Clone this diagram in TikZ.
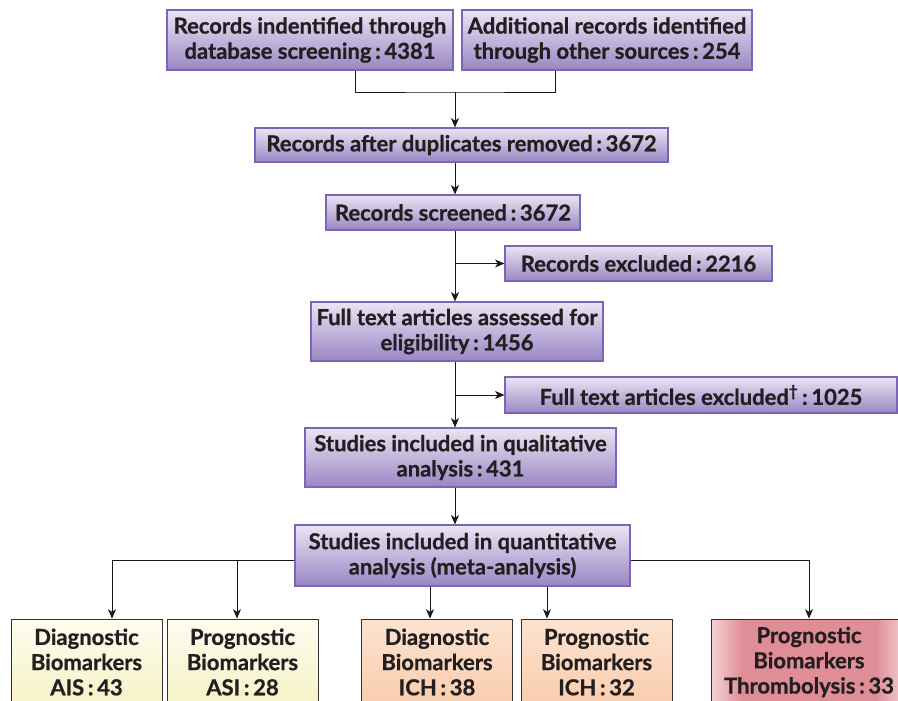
\documentclass[tikz,border=0pt]{standalone}
\usepackage{fontspec}
\setmainfont{Lato}[BoldFeatures={FakeBold=0.8}]
\usetikzlibrary{arrows.meta}
\definecolor{txt}{HTML}{231F20}
\definecolor{ptop}{HTML}{EAE5F3}
\definecolor{pbot}{HTML}{9A86C4}
\definecolor{pedge}{HTML}{7D65B5}
\definecolor{ylw}{HTML}{F6F2C8}
\definecolor{ylwtop}{HTML}{FDFCEE}
\definecolor{pch}{HTML}{F9CDAE}
\definecolor{pchtop}{HTML}{FCE3D0}
\definecolor{pinkc}{HTML}{DF8D96}
\definecolor{pinke}{HTML}{F5D3D7}
\pgfdeclarehorizontalshading{pinksh}{100bp}{color(0bp)=(pinke); color(25bp)=(pinke); color(33bp)=(pinkc); color(67bp)=(pinkc); color(75bp)=(pinke); color(100bp)=(pinke)}
\begin{document}
\begin{tikzpicture}[x=0.75pt,y=-0.75pt,
  every node/.style={font=\bfseries\fontsize{16.5}{18.9}\selectfont, text=txt, align=center, inner sep=0pt},
  pbox/.style={draw=pedge, line width=0.9pt, top color=ptop, bottom color=pbot},
  qbox/.style={draw=black!80, line width=0.7pt, minimum width=151*0.75pt, minimum height=86*0.75pt},
  ybox/.style={qbox, top color=ylwtop, bottom color=ylw},
  obox/.style={qbox, top color=pchtop, bottom color=pch},
  rbox/.style={qbox, shading=pinksh},
  conn/.style={draw=black!90, line width=0.7pt},
  arr/.style={conn, -{Stealth[length=7pt,width=6pt,inset=2pt]}}
]
\useasboundingbox (0,0) rectangle (898,700);

\node[pbox, minimum width=286*0.75pt, minimum height=60*0.75pt] (b1) at (310,40) {Records indentified through\\database screening\,:\,4381};
\node[pbox, minimum width=290*0.75pt, minimum height=60*0.75pt] (b2) at (607,40) {Additional records identified\\through other sources\,:\,254};
\node[pbox, minimum width=413*0.75pt, minimum height=34*0.75pt] (b3) at (461.5,145) {Records after duplicates removed\,:\,3672};
\node[pbox, minimum width=254*0.75pt, minimum height=35*0.75pt] (b4) at (453,212.5) {Records screened\,:\,3672};
\node[pbox, minimum width=267*0.75pt, minimum height=35*0.75pt] (ex1) at (638.5,263.5) {Records excluded\,:\,2216};
\node[pbox, minimum width=292*0.75pt, minimum height=59*0.75pt] (b5) at (457,331.5) {Full text articles assessed for\\eligibility\,:\,1456};
\node[pbox, minimum width=392*0.75pt, minimum height=36*0.75pt] (ex2) at (701,395) {Full text articles excluded\textsuperscript{\textdagger}\,:\,1025};
\node[pbox, minimum width=311*0.75pt, minimum height=59*0.75pt] (b6) at (460.5,457.5) {Studies included in qualitative\\analysis\,:\,431};
\node[pbox, minimum width=335*0.75pt, minimum height=61*0.75pt] (b7) at (462.5,555.5) {Studies included in quantitative\\analysis (meta-analysis)};

\node[ybox] (q1) at (86.5,662) {Diagnostic\\Biomarkers\\AIS\,:\,43};
\node[ybox] (q2) at (242.5,662) {Prognostic\\Biomarkers\\ASI\,:\,28};
\node[obox] (q3) at (437,662) {Diagnostic\\Biomarkers\\ICH\,:\,38};
\node[obox] (q4) at (596.5,662) {Prognostic\\Biomarkers\\ICH\,:\,32};
\node[rbox, minimum width=196*0.75pt] (q5) at (809,662) {Prognostic\\Biomarkers\\Thrombolysis\,:\,33};

% top merge
\coordinate (m) at (455,92);
\draw[conn] ([xshift=45*0.75pt]b1.south) |- (m) -| ([xshift=-52*0.75pt]b2.south);
\draw[arr] (m) -- (m |- b3.north);
\draw[arr] (m |- b3.south) -- (m |- b4.north);
\draw[arr] (m |- b4.south) -- (m |- b5.north);
\draw[arr] (m |- ex1.west) -- (ex1.west);
\draw[arr] (m |- b5.south) -- (m |- b6.north);
\draw[arr] (m |- ex2.west) -- (ex2.west);
\draw[arr] (m |- b6.south) -- (m |- b7.north);

% bottom distribution
\coordinate (hl) at (112,560);
\coordinate (hl2) at (237,560);
\coordinate (hr) at (808,560);
\draw[conn] (b7.west |- hl) -- (hl);
\draw[arr] (hl) -- (hl |- q1.north);
\draw[arr] (hl2) -- (hl2 |- q2.north);
\draw[arr] (b7.east |- hr) -| (q5.north);
\coordinate (c3) at (430,0);
\coordinate (c4) at (547,0);
\draw[arr] (c3 |- b7.south) -- (c3 |- q3.north);
\draw[arr] (c4 |- b7.south) -- (c4 |- q4.north);
\end{tikzpicture}
\end{document}
